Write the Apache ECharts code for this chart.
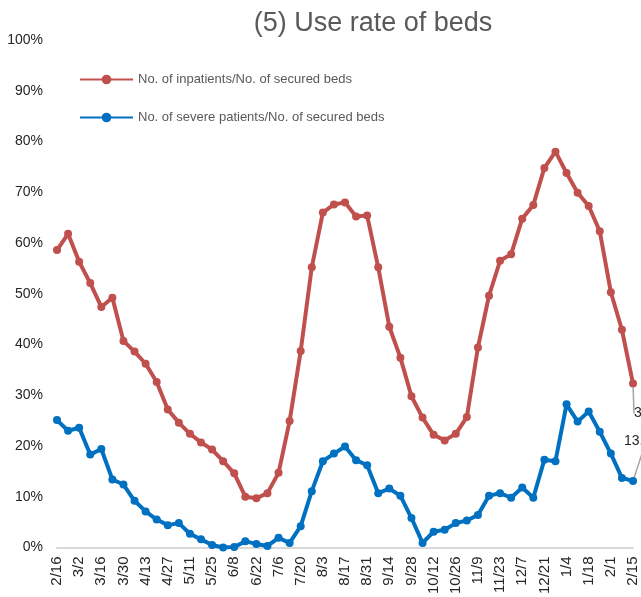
<!DOCTYPE html>
<html>
<head>
<meta charset="utf-8">
<script src="https://cdn.jsdelivr.net/npm/echarts@6/dist/echarts.min.js"></script>
<style>
  html, body { margin: 0; padding: 0; background: #fff; }
  #chart { width: 641px; height: 597px; }
</style>
</head>
<body>
<div id="chart"></div>
<script>
// weekly dates, 2/16 .. 2/15 next year
const weeks = [
  '2/16','2/23','3/2','3/9','3/16','3/23','3/30','4/6','4/13','4/20','4/27','5/4','5/11','5/18',
  '5/25','6/1','6/8','6/15','6/22','6/29','7/6','7/13','7/20','7/27','8/3','8/10','8/17','8/24',
  '8/31','9/7','9/14','9/21','9/28','10/5','10/12','10/19','10/26','11/2','11/9','11/16','11/23',
  '11/30','12/7','12/14','12/21','12/28','1/4','1/11','1/18','1/25','2/1','2/8','2/15'
]
// % of secured beds
const inpatients = [
  58.6, 61.8, 56.3, 52.1, 47.4, 49.2, 40.7, 38.6, 36.2, 32.6, 27.2, 24.6, 22.4, 20.7,
  19.3, 17.0, 14.6, 10.0, 9.7, 10.7, 14.7, 24.9, 38.7, 55.2, 66.0, 67.6, 68.0, 65.2,
  65.4, 55.2, 43.5, 37.4, 29.8, 25.6, 22.2, 21.1, 22.4, 25.7, 39.4, 49.6, 56.5,
  57.8, 64.8, 67.5, 74.8, 78.0, 73.8, 69.9, 67.3, 62.3, 50.3, 42.9, 32.3
]
const severe = [
  25.1, 23.0, 23.6, 18.3, 19.4, 13.4, 12.4, 9.2, 7.1, 5.5, 4.4, 4.8, 2.7, 1.6,
  0.5, 0.0, 0.1, 1.2, 0.7, 0.3, 1.9, 0.9, 4.2, 11.1, 17.0, 18.5, 19.9, 17.2,
  16.2, 10.7, 11.6, 10.2, 5.8, 0.9, 3.1, 3.5, 4.8, 5.3, 6.4, 10.2, 10.7,
  9.8, 11.8, 9.8, 17.3, 17.0, 28.2, 24.8, 26.8, 22.8, 18.5, 13.7, 13.1
]

let myChart = echarts.init(document.getElementById('chart'))

// only the last point gets a value label (runs off the right edge)
function lastLabel(data) {
  return data.map((v, i) => {
    if (i !== data.length - 1) return v
    return {
      value: v,
      label: {
        show: true,
        position: 'right',
        distance: 0,
        formatter: '{c}%',
        color: '#262626',
        fontSize: 14,
        fontFamily: 'Liberation Sans'
      }
    }
  })
}

let option = {
  animation: false,
  title: {
    text: '(5) Use rate of beds',
    left: 368,
    textAlign: 'center',
    top: 5,
    textStyle: {
      fontFamily: 'Liberation Sans',
      fontWeight: 'normal',
      fontSize: 27,
      color: '#595959'
    }
  },
  legend: {
    orient: 'vertical',
    left: 74,
    top: 68,
    itemGap: 25,
    itemWidth: 53,
    itemHeight: 12,
    textStyle: {
      fontFamily: 'Liberation Sans',
      fontSize: 13,
      color: '#595959'
    },
    data: ['No. of inpatients/No. of secured beds', 'No. of severe patients/No. of secured beds']
  },
  grid: {
    left: 57,
    right: 8,
    top: 40,
    bottom: 44,
    containLabel: false
  },
  xAxis: {
    type: 'category',
    boundaryGap: false,
    data: weeks,
    axisTick: { show: false },
    axisLine: { show: true, lineStyle: { color: '#d9d9d9', width: 2 } },
    axisLabel: {
      interval: 1,
      rotate: 90,
      margin: 9,
      fontFamily: 'Liberation Sans',
      fontSize: 15,
      color: '#262626'
    }
  },
  yAxis: {
    type: 'value',
    min: 0,
    max: 100,
    interval: 10,
    splitLine: { show: false },
    axisLine: { show: false },
    axisTick: { show: false },
    axisLabel: {
      formatter: '{value}%',
      margin: 14,
      fontFamily: 'Liberation Sans',
      fontSize: 14,
      color: '#262626'
    }
  },
  series: [
    {
      name: 'No. of inpatients/No. of secured beds',
      type: 'line',
      data: lastLabel(inpatients),
      symbol: 'circle',
      symbolSize: 8,
      showAllSymbol: true,
      lineStyle: { width: 4, color: '#C0504D' },
      itemStyle: { color: '#C0504D' },
      labelLayout: { dx: -3, dy: 30 },
      labelLine: { show: true, lineStyle: { color: '#a6a6a6', width: 1.5 } }
    },
    {
      name: 'No. of severe patients/No. of secured beds',
      type: 'line',
      data: lastLabel(severe),
      symbol: 'circle',
      symbolSize: 8,
      showAllSymbol: true,
      lineStyle: { width: 4, color: '#0070C0' },
      itemStyle: { color: '#0070C0' },
      labelLayout: { dx: -13, dy: -40 },
      labelLine: { show: true, lineStyle: { color: '#a6a6a6', width: 1.5 } }
    }
  ]
}

myChart.setOption(option)
</script>
</body>
</html>
